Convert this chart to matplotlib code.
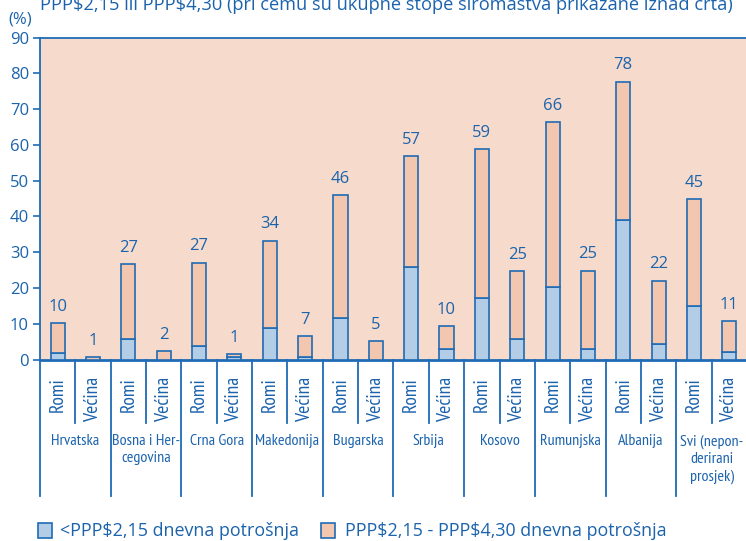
import matplotlib
matplotlib.use("Agg")
import matplotlib.pyplot as plt
import matplotlib.transforms as mtransforms
from matplotlib.patches import Rectangle
from matplotlib.lines import Line2D

# ---------------- data ----------------
countries = ["Hrvatska", "Bosna i Her-\ncegovina", "Crna Gora", "Makedonija", "Bugarska",
             "Srbija", "Kosovo", "Rumunjska", "Albanija", "Svi (nepon-\nderirani\nprosjek)"]
groups = ["Romi", "Većina"]
# share below PPP$2.15 (blue) and total below PPP$4.30, bars ordered Romi/Većina per country
below_215 = [1.7, 0.0, 5.8, 0.0, 3.8, 0.7, 8.7, 0.7, 11.6, 0.0,
             25.9, 3.0, 17.2, 5.8, 20.3, 3.0, 38.9, 4.4, 14.9, 2.0]
total_430 = [10.1, 0.65, 26.6, 2.4, 27.1, 1.4, 33.2, 6.6, 46.0, 5.2,
             56.9, 9.3, 58.7, 24.6, 66.4, 24.8, 77.7, 22.0, 44.9, 10.7]
total_labels = ["10", "1", "27", "2", "27", "1", "34", "7", "46", "5",
                "57", "10", "59", "25", "66", "25", "78", "22", "45", "11"]
yticks = [0, 10, 20, 30, 40, 50, 60, 70, 80, 90]
title = r"PPP\$2,15 ili PPP\$4,30 (pri čemu su ukupne stope siromaštva prikazane iznad crta)"
legend_labels = [r"<PPP\$2,15 dnevna potrošnja", r"PPP\$2,15 - PPP\$4,30 dnevna potrošnja"]

# ---------------- style ----------------
BG = "#F6DBCC"
PINK = "#F2C6AF"
BLUE = "#B3CDE6"
EDGE = "#1F6BB5"
TXT = "#1B63AD"
FONT = ["Open Sans", "DejaVu Sans"]
NARROW = ["PT Sans Narrow", "Open Sans", "DejaVu Sans"]

W, H = 746, 541
fig = plt.figure(figsize=(W / 100, H / 100), dpi=100)
plt.rcParams['font.family'] = FONT
renderer = fig.canvas.get_renderer()


def fit(t, target, dim="w"):
    bb = t.get_window_extent(renderer)
    cur = bb.width if dim == "w" else bb.height
    t.set_fontsize(t.get_fontsize() * target / cur)
    return t.get_fontsize()


left, right = 40 / W, 747 / W
bottom, top = 1 - 359.5 / H, 1 - 37.5 / H
ax = fig.add_axes([left, bottom, right - left, top - bottom])
ax.set_facecolor(BG)

n = len(below_215)
x = list(range(n))
upper = [t - b for t, b in zip(total_430, below_215)]
bw = 0.40
ax.bar(x, below_215, width=bw, color=BLUE, edgecolor=EDGE, linewidth=1.2, zorder=3)
ax.bar(x, upper, bottom=below_215, width=bw, color=PINK, edgecolor=EDGE, linewidth=1.2, zorder=3)

for xi, t, lab in zip(x, total_430, total_labels):
    ax.annotate(lab, (xi, t), xytext=(0, 6), textcoords="offset points",
                ha="center", va="bottom", fontsize=12, color=TXT, family=FONT)

ax.set_xlim(-0.5, n - 0.5)
ax.set_ylim(0, 90)
ax.set_yticks(yticks)
ax.tick_params(axis="y", colors=EDGE, labelcolor=TXT, labelsize=12, length=5, width=1.2,
               direction="out", pad=3)
ax.set_xticks([])
for s in ["left", "top", "bottom"]:
    ax.spines[s].set_color(EDGE)
    ax.spines[s].set_linewidth(1.3)
ax.spines["bottom"].set_linewidth(2.0)
ax.spines["right"].set_visible(False)

# category area below the axis
trans = mtransforms.blended_transform_factory(ax.transData, fig.transFigure)
y0 = 1 - 359.5 / H
y_inner = 1 - 423 / H
y_outer = 1 - 496 / H
for i in range(n + 1):
    xb = i - 0.5
    yend = y_outer if i % 2 == 0 else y_inner
    fig.add_artist(Line2D([xb, xb], [y0, yend], transform=trans, color=EDGE, lw=1.3))

grp_texts = []
for i in range(n):
    grp_texts.append(ax.text(i, 1 - 377 / H, groups[i % 2], transform=trans, rotation=90,
                             ha="center", va="top", fontsize=12, color=TXT, family=NARROW))
gs = fit(grp_texts[1], 45, "h")
for t in grp_texts:
    t.set_fontsize(gs)

ctexts = []
for j, c in enumerate(countries):
    ctexts.append(ax.text(2 * j + 0.5, 1 - 434 / H, c, transform=trans, ha="center", va="top",
                          fontsize=12, color=TXT, family=NARROW, linespacing=1.3))
cs = fit(ctexts[0], 48, "w")
for t in ctexts:
    t.set_fontsize(cs)

# title (cut off at the top) and unit
tt = fig.text(40 / W, 1 - 10 / H, title, ha="left", va="baseline", fontsize=12, color=TXT, family=FONT)
fit(tt, 691, "w")
fig.text(8 / W, 1 - 20 / H, "(%)", ha="left", va="center", fontsize=12, color=TXT, family=FONT)

# legend
for (sx, tx, tw), col, lab in zip([(38, 60, 238), (321, 345, 320)], [BLUE, PINK], legend_labels):
    fig.add_artist(Rectangle((sx / W, 1 - 538 / H), 14 / W, 15 / H, transform=fig.transFigure,
                             facecolor=col, edgecolor=EDGE, lw=1.2))
    lt = fig.text(tx / W, 1 - 531 / H, lab, ha="left", va="center", fontsize=12, color=TXT, family=FONT)
    fit(lt, tw, "w")

fig.savefig("out.png", dpi=100)
